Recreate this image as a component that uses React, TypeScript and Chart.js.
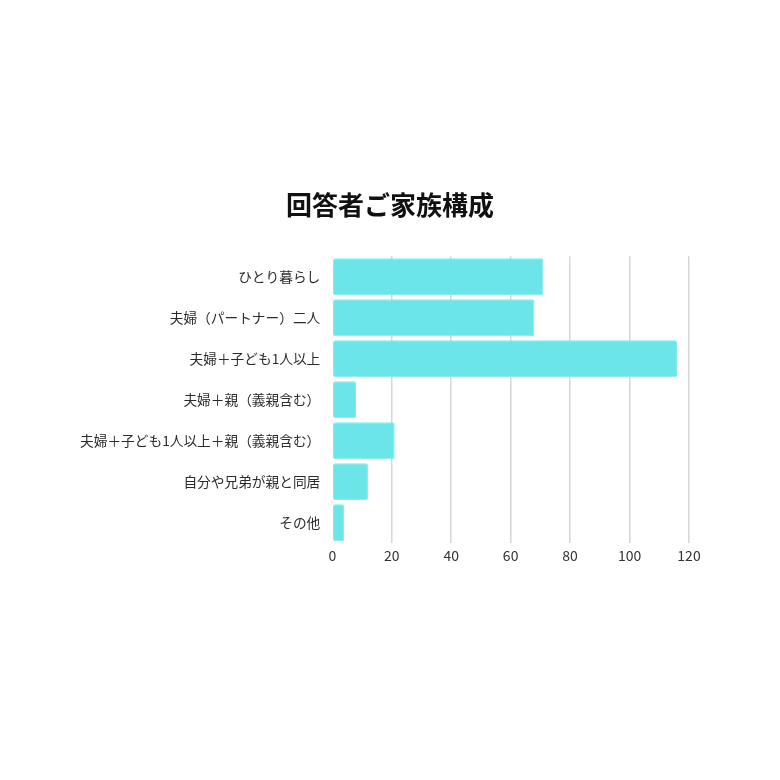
import Chart from "chart.js/auto";
import type { Chart as ChartJS, Plugin } from "chart.js";
import { useEffect, useRef } from "react";

const categories = [
  "ひとり暮らし",
  "夫婦（パートナー）二人",
  "夫婦＋子ども1人以上",
  "夫婦＋親（義親含む）",
  "夫婦＋子ども1人以上＋親（義親含む）",
  "自分や兄弟が親と同居",
  "その他",
];
const counts = [71, 68, 116, 8, 21, 12, 4];

const FONT = "'Noto Sans CJK JP', 'Noto Sans', sans-serif";

// stretch the title box over the full canvas so it is centred on the page
const centerTitle: Plugin<"bar"> = {
  id: "centerTitle",
  afterLayout(chart) {
    const block = (chart as any).titleBlock;
    if (!block) return;
    block.left = 0;
    block.right = chart.width;
    block.width = chart.width;
  },
};

export default function App() {
  const chartRef = useRef<HTMLCanvasElement>(null);
  const chartInstance = useRef<ChartJS | null>(null);

  useEffect(() => {
    if (!chartRef.current) return;
    chartInstance.current?.destroy();

    chartInstance.current = new Chart(chartRef.current, {
      type: "bar",
      data: {
        labels: categories,
        datasets: [
          {
            label: "回答者ご家族構成",
            data: counts,
            backgroundColor: "#6ce5e8",
            borderColor: "#7eeaec",
            borderWidth: 1,
            borderRadius: 2,
            borderSkipped: false,
            barPercentage: 0.9,
            categoryPercentage: 1,
          },
        ],
      },
      options: {
        indexAxis: "y",
        animation: false,
        responsive: true,
        maintainAspectRatio: false,
        layout: { padding: { top: 182, bottom: 204, left: 60, right: 83 } },
        plugins: {
          legend: { display: false },
          tooltip: { enabled: false },
          title: {
            display: true,
            text: "回答者ご家族構成",
            color: "#111",
            font: { family: FONT, size: 26, weight: "bold" },
            padding: { top: 0, bottom: 35 },
          },
        },
        scales: {
          x: {
            min: 0,
            max: 120,
            ticks: {
              stepSize: 20,
              color: "#333",
              font: { family: FONT, size: 14 },
              padding: 4,
            },
            grid: {
              color: (ctx) => (ctx.tick && ctx.tick.value === 0 ? "rgba(0,0,0,0)" : "#d6d6d6"),
              lineWidth: 1.5,
              drawTicks: false,
            },
            border: { display: false },
          },
          y: {
            ticks: {
              color: "#2b2b2b",
              font: { family: FONT, size: 13.7 },
              padding: 12,
            },
            grid: { display: false, drawTicks: false },
            border: { display: false },
          },
        },
      },
      plugins: [centerTitle],
    });

    return () => {
      chartInstance.current?.destroy();
      chartInstance.current = null;
    };
  }, []);

  return (
    <div style={{ position: "relative", width: 764, height: 764, background: "#fff" }}>
      <canvas ref={chartRef}></canvas>
    </div>
  );
}
